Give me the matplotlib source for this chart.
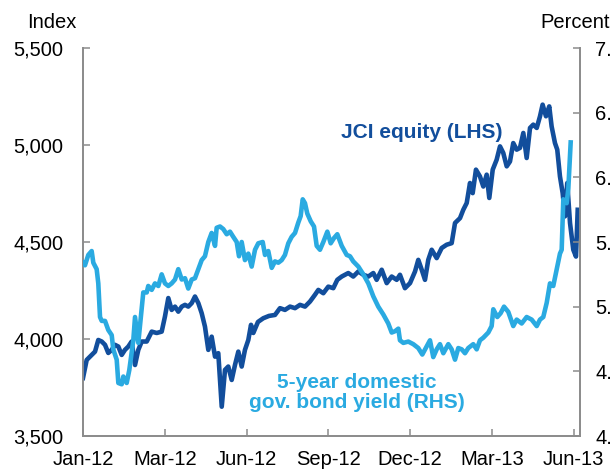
import matplotlib
matplotlib.use("Agg")
import matplotlib.pyplot as plt
import numpy as np

# ==========================================
# DATA (x in tick units: 0 = Jan-12, 1 = Mar-12, ... 6 = Jun-13)
# ==========================================
TICK_LABELS = ["Jan-12", "Mar-12", "Jun-12", "Sep-12", "Dec-12", "Mar-13", "Jun-13"]

jci_x = [0.000, 0.045, 0.086, 0.147, 0.187, 0.229, 0.269, 0.309, 0.351, 0.391,
         0.432, 0.473, 0.513, 0.554, 0.595, 0.636, 0.676, 0.718, 0.779, 0.840,
         0.901, 0.962, 1.002, 1.043, 1.084, 1.125, 1.165, 1.207, 1.247, 1.287,
         1.329, 1.369, 1.410, 1.451, 1.491, 1.532, 1.573, 1.614, 1.654, 1.696,
         1.736, 1.776, 1.818, 1.858, 1.899, 1.940, 1.980, 2.021, 2.054, 2.082,
         2.139, 2.204, 2.274, 2.347, 2.408, 2.469, 2.531, 2.592, 2.653, 2.714,
         2.775, 2.836, 2.877, 2.938, 2.999, 3.060, 3.109, 3.163, 3.243, 3.304,
         3.366, 3.427, 3.488, 3.549, 3.590, 3.652, 3.713, 3.774, 3.835, 3.875,
         3.936, 3.998, 4.059, 4.099, 4.141, 4.181, 4.221, 4.263, 4.324, 4.385,
         4.446, 4.507, 4.548, 4.609, 4.649, 4.691, 4.731, 4.764, 4.804, 4.853,
         4.894, 4.935, 4.967, 5.009, 5.057, 5.098, 5.138, 5.180, 5.220, 5.260,
         5.302, 5.342, 5.383, 5.424, 5.465, 5.505, 5.547, 5.587, 5.619, 5.660,
         5.700, 5.729, 5.770, 5.798, 5.831, 5.864, 5.892, 5.920, 5.954, 5.994,
         6.027, 6.048]
jci = [3799, 3892, 3909, 3935, 3995, 3987, 3970, 3928, 3944, 3970,
       3961, 3918, 3944, 3961, 3987, 3866, 3944, 3987, 3987, 4038,
       4031, 4038, 4116, 4211, 4150, 4167, 4141, 4167, 4176, 4167,
       4185, 4219, 4185, 4133, 4064, 3944, 4012, 3909, 3927, 3651,
       3841, 3858, 3789, 3866, 3935, 3858, 3944, 3995, 4073, 4031,
       4088, 4107, 4119, 4124, 4159, 4150, 4167, 4159, 4176, 4167,
       4193, 4228, 4253, 4236, 4270, 4262, 4305, 4322, 4340, 4322,
       4348, 4331, 4322, 4340, 4305, 4357, 4288, 4322, 4305, 4331,
       4262, 4288, 4348, 4408, 4357, 4305, 4408, 4460, 4417, 4469,
       4486, 4494, 4598, 4623, 4666, 4701, 4804, 4752, 4873, 4838,
       4786, 4847, 4727, 4873, 4924, 4993, 4959, 4890, 4915, 5010,
       4976, 4985, 5062, 4933, 5088, 5105, 5088, 5148, 5208, 5148,
       5199, 5096, 5010, 4976, 4838, 4752, 4632, 4804, 4598, 4460,
       4425, 4666]

bond_x = [0.000, 0.024, 0.065, 0.106, 0.126, 0.167, 0.187, 0.208, 0.229, 0.269,
          0.309, 0.351, 0.370, 0.412, 0.432, 0.473, 0.493, 0.534, 0.566, 0.615,
          0.636, 0.676, 0.718, 0.737, 0.779, 0.798, 0.840, 0.880, 0.921, 0.962,
          1.002, 1.043, 1.084, 1.125, 1.165, 1.207, 1.247, 1.287, 1.329, 1.369,
          1.410, 1.451, 1.491, 1.532, 1.573, 1.614, 1.634, 1.675, 1.715, 1.757,
          1.797, 1.837, 1.879, 1.907, 1.940, 1.980, 2.021, 2.062, 2.103, 2.143,
          2.197, 2.225, 2.265, 2.307, 2.347, 2.388, 2.429, 2.469, 2.510, 2.551,
          2.592, 2.632, 2.661, 2.686, 2.714, 2.742, 2.784, 2.824, 2.857, 2.897,
          2.938, 2.987, 3.028, 3.068, 3.109, 3.163, 3.224, 3.264, 3.304, 3.366,
          3.427, 3.488, 3.549, 3.610, 3.671, 3.732, 3.774, 3.814, 3.855, 3.875,
          3.916, 3.977, 4.038, 4.099, 4.148, 4.200, 4.242, 4.282, 4.324, 4.364,
          4.405, 4.466, 4.507, 4.548, 4.588, 4.630, 4.670, 4.710, 4.771, 4.813,
          4.853, 4.894, 4.955, 4.996, 5.016, 5.065, 5.106, 5.147, 5.199, 5.260,
          5.302, 5.363, 5.424, 5.485, 5.547, 5.587, 5.627, 5.669, 5.709, 5.749,
          5.791, 5.831, 5.852, 5.872, 5.913, 5.933, 5.962]
bond = [5.34, 5.32, 5.40, 5.43, 5.34, 5.29, 5.18, 4.92, 4.89, 4.89,
        4.82, 4.78, 4.67, 4.59, 4.41, 4.40, 4.46, 4.41, 4.51, 4.74,
        4.92, 4.72, 4.99, 5.11, 5.11, 5.16, 5.13, 5.18, 5.16, 5.25,
        5.18, 5.16, 5.18, 5.21, 5.29, 5.21, 5.22, 5.14, 5.21, 5.22,
        5.29, 5.36, 5.39, 5.50, 5.57, 5.47, 5.61, 5.62, 5.60, 5.56,
        5.58, 5.54, 5.50, 5.39, 5.50, 5.36, 5.41, 5.31, 5.44, 5.49,
        5.50, 5.40, 5.43, 5.30, 5.35, 5.34, 5.36, 5.40, 5.49, 5.54,
        5.57, 5.65, 5.70, 5.83, 5.80, 5.72, 5.66, 5.62, 5.47, 5.44,
        5.50, 5.58, 5.49, 5.53, 5.56, 5.47, 5.40, 5.39, 5.35, 5.31,
        5.25, 5.18, 5.08, 5.00, 4.94, 4.87, 4.80, 4.81, 4.83, 4.74,
        4.72, 4.73, 4.71, 4.68, 4.63, 4.69, 4.74, 4.61, 4.67, 4.71,
        4.64, 4.71, 4.67, 4.59, 4.68, 4.67, 4.64, 4.68, 4.71, 4.67,
        4.74, 4.76, 4.80, 4.85, 4.98, 4.92, 4.95, 5.00, 4.96, 4.85,
        4.90, 4.87, 4.92, 4.90, 4.85, 4.90, 4.92, 5.03, 5.18, 5.16,
        5.29, 5.41, 5.44, 5.83, 5.80, 5.91, 6.27]

LEFT_TICKS = [3500, 4000, 4500, 5000, 5500]
RIGHT_TICKS = [4.0, 4.5, 5.0, 5.5, 6.0, 6.5, 7.0]
# ==========================================

DARK = "#124E9C"
LIGHT = "#2AAAE1"
GREY = "#8C8C8C"

plt.rcParams["font.family"] = ["Liberation Sans", "DejaVu Sans"]

fig = plt.figure(figsize=(6.12, 4.72), dpi=100)
ax = fig.add_axes([83 / 612, 36 / 472, 497 / 612, 388 / 472])
ax2 = ax.twinx()

ax.plot(jci_x, jci, color=DARK, lw=3.3, solid_joinstyle="round", zorder=3)
ax2.plot(bond_x, bond, color=LIGHT, lw=3.3, solid_joinstyle="round", zorder=3)

ax.set_xlim(0, 6.076)
ax.set_ylim(3500, 5500)
ax2.set_ylim(4, 7)

ax.set_xticks(range(len(TICK_LABELS)))
ax.set_xticklabels(TICK_LABELS)
ax.set_yticks(LEFT_TICKS)
ax.set_yticklabels([f"{v:,}" for v in LEFT_TICKS])
ax2.set_yticks(RIGHT_TICKS)
ax2.set_yticklabels([f"{v:.1f}" for v in RIGHT_TICKS])

for a in (ax, ax2):
    a.spines["top"].set_visible(False)
    for s in ("left", "right", "bottom"):
        a.spines[s].set_color(GREY)
        a.spines[s].set_linewidth(1.3)
    a.tick_params(direction="in", length=5, width=1.1, color=GREY, labelsize=14.5, labelcolor="black")

ax.tick_params(axis="y", pad=14)
ax.tick_params(axis="x", pad=10)
ax2.tick_params(axis="y", pad=11)

fig.text(52 / 612, 1 - 22 / 472, "Index", ha="center", va="center", fontsize=14.5)
fig.text(540 / 612, 1 - 22 / 472, "Percent", ha="left", va="center", fontsize=14.5)

ax.text(4.14, 5063, "JCI equity (LHS)", color=DARK, fontsize=15, fontweight="bold",
        ha="center", va="center")
ax.text(3.35, 3725, "5-year domestic\ngov. bond yield (RHS)", color=LIGHT, fontsize=15,
        fontweight="bold", ha="center", va="center", multialignment="center", linespacing=1.05)

fig.savefig("out.png", dpi=100)
